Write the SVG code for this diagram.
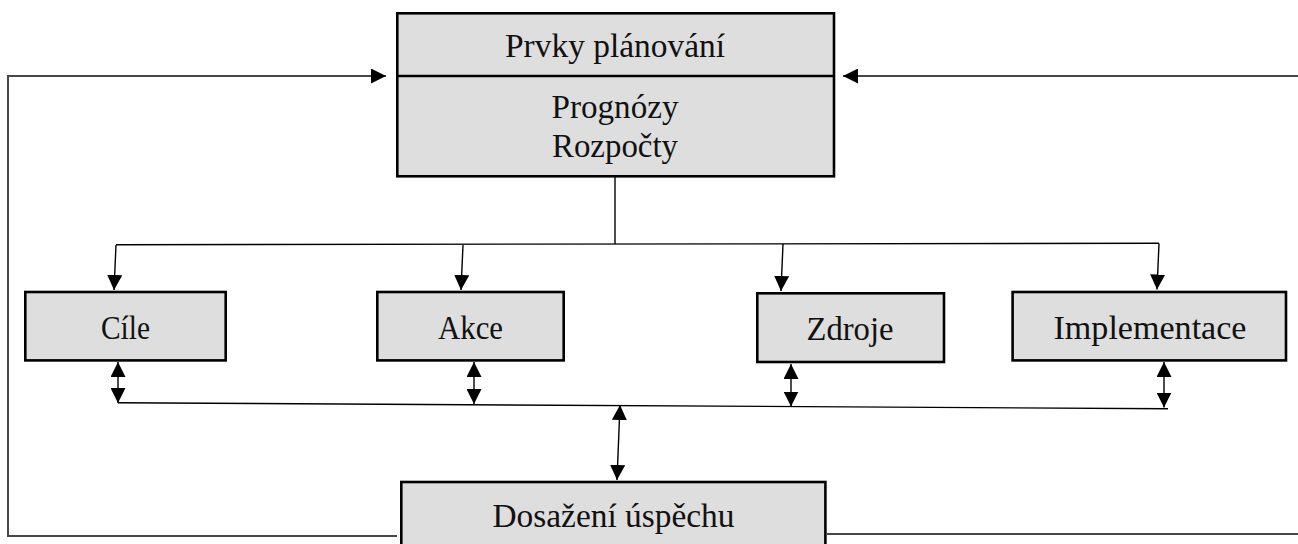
<svg xmlns="http://www.w3.org/2000/svg" width="1298" height="544" viewBox="0 0 1298 544">
  <style>
    .box { fill: #dedede; stroke: #000; stroke-width: 2.6; }
    .lbl { font-family: "Liberation Serif", "Times New Roman", serif; font-size: 33.5px; fill: #111; text-anchor: middle; }
    .feed { fill: none; stroke: #474747; stroke-width: 2; }
    .link { fill: none; stroke: #000; stroke-width: 1.4; }
  </style>
  <defs>
    <marker id="head" viewBox="0 0 16 16" refX="16" refY="8" markerWidth="15" markerHeight="15" markerUnits="userSpaceOnUse" orient="auto-start-reverse">
      <path d="M0,0 L16,8 L0,16 z" fill="#000"/>
    </marker>
  </defs>

  <!-- connectors -->
  <g id="connectors">
    <!-- feedback loops back to the planning box -->
    <polyline class="feed" points="397,536 8,536 8,76 386,76" marker-end="url(#head)"/>
    <line class="feed" x1="1298" y1="76" x2="843" y2="76" marker-end="url(#head)"/>
    <line class="feed" x1="827" y1="534" x2="1298" y2="534"/>

    <!-- distribution from planning box -->
    <line class="link" x1="615" y1="177" x2="615" y2="244"/>
    <line class="link" x1="116" y1="244.7" x2="1159" y2="243.3"/>
    <line class="link" x1="116" y1="245" x2="114" y2="290" marker-end="url(#head)"/>
    <line class="link" x1="463" y1="245" x2="461" y2="290" marker-end="url(#head)"/>
    <line class="link" x1="783" y1="244" x2="781" y2="291" marker-end="url(#head)"/>
    <line class="link" x1="1159" y1="243.5" x2="1157" y2="289.5" marker-end="url(#head)"/>

    <!-- two-way links to the collecting line -->
    <line class="link" x1="118" y1="362" x2="118" y2="403" marker-start="url(#head)" marker-end="url(#head)"/>
    <line class="link" x1="474" y1="362" x2="474" y2="404" marker-start="url(#head)" marker-end="url(#head)"/>
    <line class="link" x1="791" y1="364" x2="791" y2="406.5" marker-start="url(#head)" marker-end="url(#head)"/>
    <line class="link" x1="1164" y1="362" x2="1164" y2="407.5" marker-start="url(#head)" marker-end="url(#head)"/>
    <line class="link" x1="118" y1="402.7" x2="1168" y2="408.7"/>
    <line class="link" x1="620" y1="405" x2="617" y2="480" marker-start="url(#head)" marker-end="url(#head)"/>
  </g>

  <!-- planning elements -->
  <g id="planning">
    <rect class="box" x="397.3" y="13.3" width="436.7" height="163"/>
    <line x1="397" y1="76" x2="834" y2="76" stroke="#000" stroke-width="2.6"/>
    <text class="lbl" x="615" y="57" textLength="220" lengthAdjust="spacingAndGlyphs">Prvky plánování</text>
    <text class="lbl" x="615" y="118" textLength="127" lengthAdjust="spacingAndGlyphs">Prognózy</text>
    <text class="lbl" x="615" y="156.5" textLength="126" lengthAdjust="spacingAndGlyphs">Rozpočty</text>
  </g>

  <g id="cile">
    <rect class="box" x="25.3" y="292" width="200.4" height="68.4"/>
    <text class="lbl" x="125.5" y="339" textLength="49" lengthAdjust="spacingAndGlyphs">Cíle</text>
  </g>

  <g id="akce">
    <rect class="box" x="377.3" y="292" width="186.4" height="68.4"/>
    <text class="lbl" x="470.5" y="338.5" textLength="65" lengthAdjust="spacingAndGlyphs">Akce</text>
  </g>

  <g id="zdroje">
    <rect class="box" x="757.3" y="293.3" width="186.7" height="68.7"/>
    <text class="lbl" x="850" y="340" textLength="87" lengthAdjust="spacingAndGlyphs">Zdroje</text>
  </g>

  <g id="implementace">
    <rect class="box" x="1012.6" y="292" width="273.4" height="68.4"/>
    <text class="lbl" x="1150" y="339.3" textLength="193" lengthAdjust="spacingAndGlyphs">Implementace</text>
  </g>

  <g id="uspech">
    <rect class="box" x="401.3" y="482" width="424.1" height="80"/>
    <text class="lbl" x="613.5" y="526.7" textLength="242" lengthAdjust="spacingAndGlyphs">Dosažení úspěchu</text>
  </g>
</svg>
